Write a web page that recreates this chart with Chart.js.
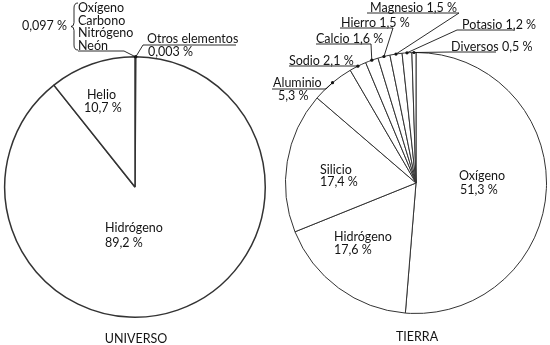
<!DOCTYPE html>
<html>
<head>
<meta charset="utf-8">
<script src="https://cdn.jsdelivr.net/npm/chart.js@4.4.1/dist/chart.umd.min.js"></script>
<style>
    html, body { margin: 0; padding: 0; background: #ffffff; }
    #lienzo { position: relative; width: 550px; height: 345px; }
    #lienzo canvas { position: absolute; left: 0; top: 0; }
</style>
</head>
<body>
<div id="lienzo">
    <canvas id="universo" width="550" height="345"></canvas>
    <canvas id="tierra" width="550" height="345"></canvas>
</div>
<script>
// datos
const universoElementos = ['Oxígeno, Carbono, Nitrógeno, Neón', 'Otros elementos', 'Hidrógeno', 'Helio'];
const universoPorcentajes = [0.097, 0.003, 89.2, 10.7];

const tierraElementos = ['Oxígeno', 'Hidrógeno', 'Silicio', 'Aluminio', 'Sodio', 'Calcio', 'Hierro', 'Magnesio', 'Potasio', 'Diversos'];
const tierraPorcentajes = [51.3, 17.6, 17.4, 5.3, 2.1, 1.6, 1.5, 1.5, 1.2, 0.5];

const tinta = '#141414';
const fuente = '12.5px Lato';

// donde va cada rotulo (en pixeles de la pagina)
const universoRotulos = [
    { grupo: [78, 8, 12.7], valor: [22, 26], llave: [76, 3, 50], subrayado: [78, 124, 51] },
    { nombre: [147, 39], valor: [148, 52], subrayado: [236, 143, 45] },
    { nombre: [105, 228], valor: [105, 243] },
    { nombre: [87, 95], valor: [84, 108] }
];

const tierraRotulos = [
    { nombre: [459, 176], valor: [460, 190] },
    { nombre: [334, 237], valor: [334, 250] },
    { nombre: [320, 170], valor: [320, 182] },
    { nombre: [273, 83], valor: [278, 96], subrayado: [272, 326, 89] },
    { linea: [289, 61], subrayado: [289, 356, 66] },
    { linea: [316, 39], subrayado: [316, 371, 44] },
    { linea: [341, 23], subrayado: [340, 393, 28] },
    { linea: [370, 8], subrayado: [367, 459, 13] },
    { linea: [462, 25], subrayado: [515, 457, 30] },
    { linea: [451, 47], subrayado: [496, 451, 52] }
];

function porcentaje(v) {
    return String(v).replace('.', ',') + ' %';
}

function puntoBorde(chart, i) {
    const arco = chart.getDatasetMeta(0).data[i];
    const p = arco.getProps(['x', 'y', 'startAngle', 'endAngle', 'outerRadius'], true);
    const a = (p.startAngle + p.endAngle) / 2;
    return [p.x + Math.cos(a) * p.outerRadius, p.y + Math.sin(a) * p.outerRadius];
}

function crearRotulos(elementos, valores, rotulos, titulo, posTitulo) {
    return {
        id: 'rotulos',
        afterDraw(chart) {
            const ctx = chart.ctx;
            ctx.save();
            ctx.fillStyle = tinta;
            ctx.strokeStyle = tinta;
            ctx.lineWidth = 0.9;
            ctx.font = fuente;
            ctx.textBaseline = 'middle';
            ctx.textAlign = 'left';

            rotulos.forEach((r, i) => {
                const texto = porcentaje(valores[i]);
                if (r.grupo) {
                    elementos[i].split(', ').forEach((n, k) => {
                        ctx.fillText(n, r.grupo[0], r.grupo[1] + k * r.grupo[2]);
                    });
                    ctx.fillText(texto, r.valor[0], r.valor[1]);
                } else if (r.linea) {
                    ctx.fillText(elementos[i] + ' ' + texto, r.linea[0], r.linea[1]);
                } else {
                    ctx.fillText(elementos[i], r.nombre[0], r.nombre[1]);
                    ctx.fillText(texto, r.valor[0], r.valor[1]);
                }

                if (r.llave) {
                    const [x, y0, y1] = r.llave;
                    const ym = (y0 + y1) / 2;
                    ctx.beginPath();
                    ctx.moveTo(x + 2, y0);
                    ctx.quadraticCurveTo(x - 2, y0, x - 2, y0 + 5);
                    ctx.lineTo(x - 2, ym - 4);
                    ctx.quadraticCurveTo(x - 2, ym, x - 5, ym);
                    ctx.quadraticCurveTo(x - 2, ym, x - 2, ym + 4);
                    ctx.lineTo(x - 2, y1 - 5);
                    ctx.quadraticCurveTo(x - 2, y1, x + 2, y1);
                    ctx.stroke();
                }

                if (r.subrayado) {
                    const [xa, xb, y] = r.subrayado;
                    const [px, py] = puntoBorde(chart, i);
                    ctx.beginPath();
                    ctx.moveTo(xa, y);
                    ctx.lineTo(xb, y);
                    ctx.lineTo(px, py);
                    ctx.stroke();
                    ctx.beginPath();
                    ctx.arc(px, py, 1.6, 0, Math.PI * 2);
                    ctx.fill();
                }
            });

            ctx.textAlign = 'center';
            ctx.fillText(titulo, posTitulo[0], posTitulo[1]);
            ctx.restore();
        }
    };
}

function crearPastel(id, elementos, valores, relleno, grosor, rotulos, titulo, posTitulo) {
    const config = {
        type: 'pie',
        data: {
            labels: elementos,
            datasets: [{
                data: valores,
                backgroundColor: '#ffffff',
                borderColor: '#333333',
                borderWidth: grosor,
                hoverOffset: 0
            }]
        },
        options: {
            responsive: false,
            animation: false,
            events: [],
            layout: { padding: relleno },
            plugins: {
                legend: { display: false },
                tooltip: { enabled: false }
            }
        },
        plugins: [crearRotulos(elementos, valores, rotulos, titulo, posTitulo)]
    };
    const contexto = document.getElementById(id).getContext('2d');
    return new Chart(contexto, config);
}

const pastelUniverso = crearPastel('universo', universoElementos, universoPorcentajes,
    { left: 4, top: 56, right: 284, bottom: 27 }, 1.5, universoRotulos, 'UNIVERSO', [136, 339]);

const pastelTierra = crearPastel('tierra', tierraElementos, tierraPorcentajes,
    { left: 285, top: 52, right: 3, bottom: 31 }, 1, tierraRotulos, 'TIERRA', [417, 337]);
</script>
</body>
</html>
